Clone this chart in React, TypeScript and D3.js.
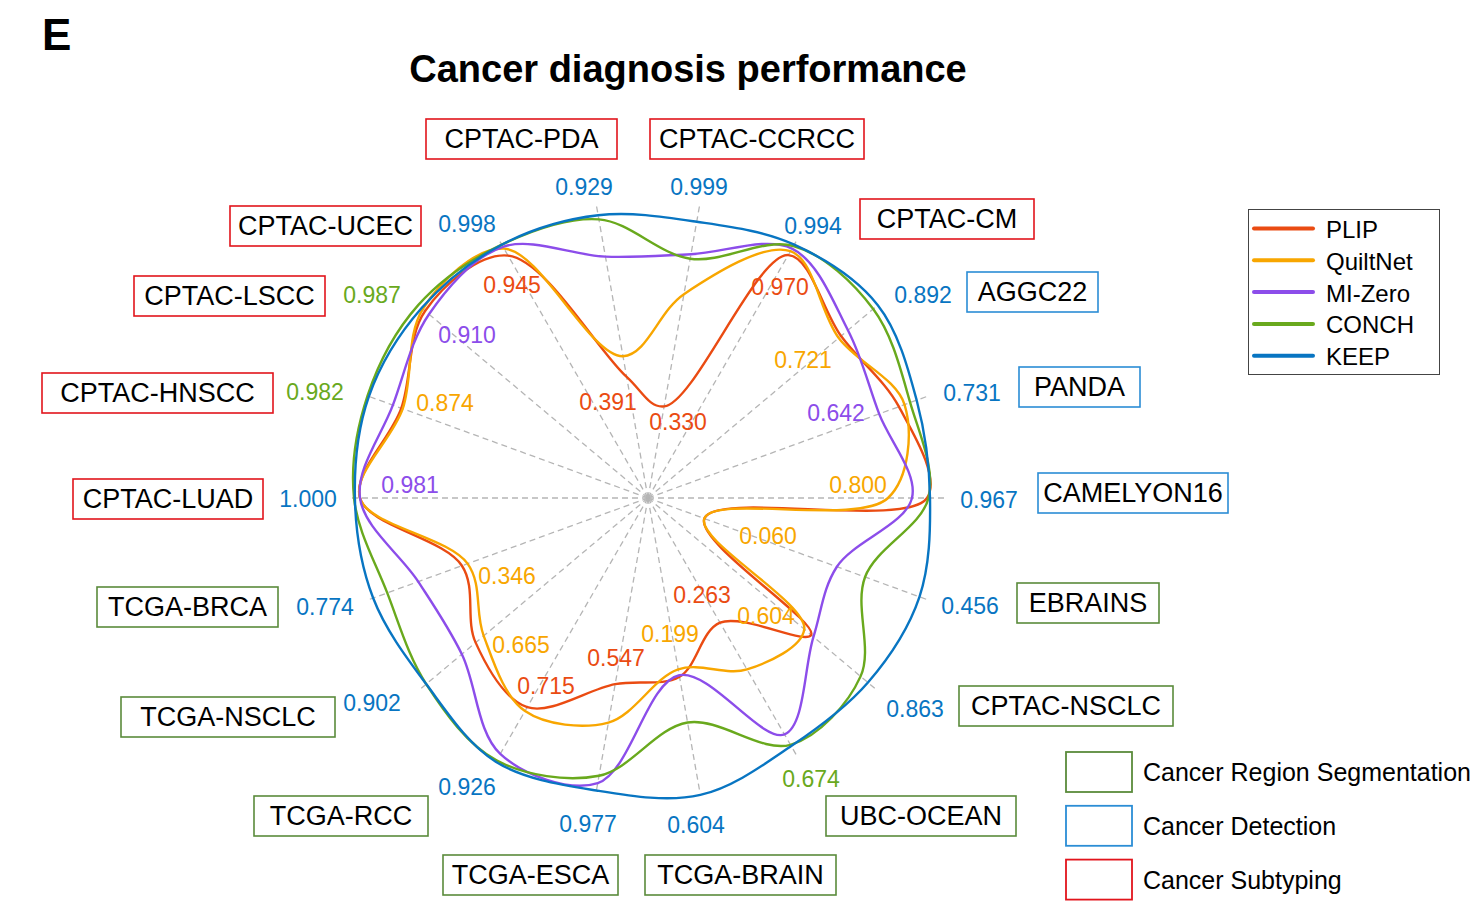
import * as d3 from 'd3';

// axes clockwise from the top, first one sits 10° right of 12 o'clock
const AXES = [
  'CPTAC-CCRCC', 'CPTAC-CM', 'AGGC22', 'PANDA', 'CAMELYON16', 'EBRAINS',
  'CPTAC-NSCLC', 'UBC-OCEAN', 'TCGA-BRAIN', 'TCGA-ESCA', 'TCGA-RCC', 'TCGA-NSCLC',
  'TCGA-BRCA', 'CPTAC-LUAD', 'CPTAC-HNSCC', 'CPTAC-LSCC', 'CPTAC-UCEC', 'CPTAC-PDA',
];
const TASK = ['sub', 'sub', 'det', 'det', 'det', 'seg', 'seg', 'seg', 'seg', 'seg', 'seg', 'seg', 'seg', 'sub', 'sub', 'sub', 'sub', 'sub'];

const MODELS = ['PLIP', 'QuiltNet', 'MI-Zero', 'CONCH', 'KEEP'];

// plotted radius (fraction of the axis) per model
const PLIP = [0.31, 0.935, 0.84, 0.89, 0.93, 0.2, 0.71, 0.48, 0.605, 0.63, 0.805, 0.75, 0.66, 0.96, 0.875, 0.97, 0.933, 0.41];
const QUILTNET = [0.69, 0.95, 0.83, 0.91, 0.8, 0.2, 0.68, 0.66, 0.58, 0.76, 0.82, 0.715, 0.64, 0.96, 0.87, 0.98, 0.96, 0.48];
const MIZERO = [0.825, 0.96, 0.87, 0.82, 0.88, 0.67, 0.72, 0.91, 0.6, 0.965, 0.985, 0.81, 0.815, 0.96, 0.905, 0.953, 0.967, 0.817];
const CONCH = [0.81, 0.97, 0.98, 0.93, 0.935, 0.77, 0.925, 0.95, 0.76, 0.94, 1.01, 0.965, 0.925, 0.98, 0.995, 1.0, 0.975, 0.943];
const KEEP = [0.935, 0.975, 1.0, 0.953, 0.94, 0.963, 0.957, 0.955, 1.005, 0.99, 1.015, 0.965, 0.975, 0.977, 0.99, 0.985, 0.975, 0.957];
const SERIES = [PLIP, QUILTNET, MIZERO, CONCH, KEEP];

// best score per axis (outer labels) and the model that got it
const BEST = ['0.999', '0.994', '0.892', '0.731', '0.967', '0.456', '0.863', '0.674', '0.604', '0.977', '0.926', '0.902', '0.774', '1.000', '0.982', '0.987', '0.998', '0.929'];
const BEST_MODEL = [4, 4, 4, 4, 4, 4, 4, 3, 4, 4, 4, 4, 4, 4, 3, 3, 4, 4];

// worst score per axis (inner labels) and the model that got it
const WORST = ['0.330', '0.970', '0.721', '0.642', '0.800', '0.060', '0.604', '0.263', '0.199', '0.547', '0.715', '0.665', '0.346', '0.981', '0.874', '0.910', '0.945', '0.391'];
const WORST_MODEL = [0, 0, 1, 2, 1, 1, 1, 0, 1, 0, 0, 1, 1, 2, 1, 2, 0, 0];

const TASKS = [
  { key: 'seg', label: 'Cancer Region Segmentation' },
  { key: 'det', label: 'Cancer Detection' },
  { key: 'sub', label: 'Cancer Subtyping' },
];

// ---- layout (not data) ----
const W = 1480;
const H = 910;
const CX = 648;
const CY = 498;
const R = 300;
const FONT = '"Liberation Sans", Arial, Helvetica, sans-serif';

const COLORS = ['#ea4b12', '#f8a600', '#8c4dea', '#69a91d', '#0875c2'];
const TASK_COLORS: Record<string, string> = { seg: '#5a8b3b', det: '#2b8dd5', sub: '#e2141c' };

// text centres relative to chart centre
const BEST_POS = [
  [51, -311], [165, -272], [275, -203], [324, -105], [341, 2], [322, 108],
  [267, 211], [163, 281], [48, 327], [-60, 326], [-181, 289], [-276, 205],
  [-323, 109], [-340, 1], [-333, -106], [-276, -203], [-181, -274], [-64, -311],
];
const WORST_POS = [
  [30, -76], [132, -211], [155, -138], [188, -85], [210, -13], [120, 38],
  [118, 118], [54, 97], [22, 136], [-32, 160], [-102, 188], [-127, 147],
  [-141, 78], [-238, -13], [-203, -95], [-181, -163], [-136, -213], [-40, -96],
];
// name boxes: x0, y0, x1
const NAME_BOX = [
  [650, 119, 864], [860, 199, 1034], [967, 272, 1098], [1019, 367, 1140], [1038, 473, 1228], [1017, 583, 1159],
  [959, 686, 1173], [826, 796, 1016], [645, 855, 836], [443, 855, 618], [254, 796, 428], [121, 697, 335],
  [97, 587, 278], [73, 479, 263], [42, 373, 273], [134, 276, 325], [230, 206, 421], [426, 119, 617],
];

export default function App() {
  const n = AXES.length;
  const angle = d3.scaleLinear().domain([0, n]).range([0, 2 * Math.PI]);
  const a = (i: number) => angle(i) + Math.PI / n;
  const r = d3.scaleLinear().domain([0, 1]).range([0, R]);

  const radar = d3
    .lineRadial<number>()
    .angle((_, i) => a(i))
    .radius((d) => r(d))
    .curve(d3.curveCatmullRomClosed.alpha(0.5));

  return (
    <div style={{ position: 'absolute', left: 0, top: 0 }}>
      <svg width={W} height={H} style={{ display: 'block', background: '#fff' }} fontFamily={FONT}>
        {/* panel letter + title */}
        <text x={42} y={50} fontSize={44} fontWeight={700} fill="#000">E</text>
        <text x={688} y={82} fontSize={38} fontWeight={700} textAnchor="middle" fill="#000">
          Cancer diagnosis performance
        </text>

        <g transform={`translate(${CX},${CY})`}>
          {/* spokes */}
          {AXES.map((name, i) => (
            <line
              key={name}
              x1={0}
              y1={0}
              x2={Math.sin(a(i)) * R}
              y2={-Math.cos(a(i)) * R}
              stroke="#b5b5b5"
              strokeWidth={1.3}
              strokeDasharray="6 4"
            />
          ))}

          {/* model curves */}
          {SERIES.map((vals, m) => (
            <path
              key={MODELS[m]}
              d={radar(vals) ?? ''}
              fill="none"
              stroke={COLORS[m]}
              strokeWidth={2.4}
              strokeLinejoin="round"
            />
          ))}

          {/* worst value labels */}
          {WORST.map((v, i) => (
            <text
              key={`w${i}`}
              x={WORST_POS[i][0]}
              y={WORST_POS[i][1]}
              textAnchor="middle"
              dominantBaseline="central"
              fontSize={23}
              fill={COLORS[WORST_MODEL[i]]}
            >
              {v}
            </text>
          ))}

          {/* best value labels */}
          {BEST.map((v, i) => (
            <text
              key={`b${i}`}
              x={BEST_POS[i][0]}
              y={BEST_POS[i][1]}
              textAnchor="middle"
              dominantBaseline="central"
              fontSize={23}
              fill={COLORS[BEST_MODEL[i]]}
            >
              {v}
            </text>
          ))}
        </g>

        {/* dataset name boxes */}
        {AXES.map((name, i) => {
          const [x0, y0, x1] = NAME_BOX[i];
          return (
            <g key={`n${name}`}>
              <rect x={x0} y={y0} width={x1 - x0} height={40} fill="none" stroke={TASK_COLORS[TASK[i]]} strokeWidth={1.6} />
              <text x={(x0 + x1) / 2} y={y0 + 20} textAnchor="middle" dominantBaseline="central" fontSize={27} fill="#000">
                {name}
              </text>
            </g>
          );
        })}

        {/* model legend */}
        <rect x={1248.5} y={209.5} width={191} height={165} fill="#fff" stroke="#444" strokeWidth={1} />
        {MODELS.map((m, i) => {
          const y = 228.5 + i * 31.8;
          return (
            <g key={m}>
              <line x1={1254} x2={1313} y1={y} y2={y} stroke={COLORS[i]} strokeWidth={4} strokeLinecap="round" />
              <text x={1326} y={y + 1} dominantBaseline="central" fontSize={24} fill="#000">{m}</text>
            </g>
          );
        })}

        {/* task legend */}
        {TASKS.map((t, i) => {
          const y = 752 + i * 53.8;
          return (
            <g key={t.key}>
              <rect x={1066} y={y} width={66} height={40} fill="none" stroke={TASK_COLORS[t.key]} strokeWidth={1.8} />
              <text x={1143} y={y + 20} dominantBaseline="central" fontSize={25} fill="#000">{t.label}</text>
            </g>
          );
        })}
      </svg>
    </div>
  );
}
